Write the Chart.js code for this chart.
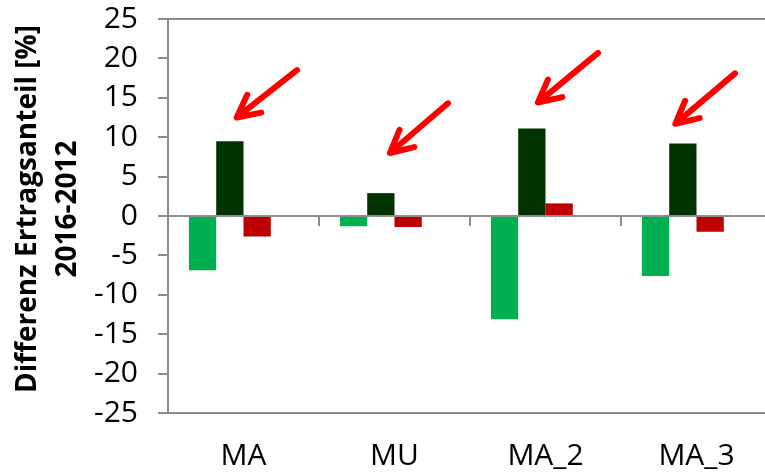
<!DOCTYPE html>
<html>
<head>
<meta charset="utf-8">
<script src="https://cdn.jsdelivr.net/npm/chart.js@4/dist/chart.umd.min.js"></script>
<style>
    html, body { margin: 0; padding: 0; overflow: hidden; background: #fff; }
    #wrap { position: relative; width: 776px; height: 475px; }
</style>
</head>
<body>
<div id="wrap"><canvas id="chart"></canvas></div>
<script>
// Categories and series values (difference in yield share, 2016 vs 2012)
const categories = ['MA', 'MU', 'MA_2', 'MA_3'];
const seriesLight = [-6.9, -1.3, -13.1, -7.6];
const seriesDark = [9.5, 2.9, 11.1, 9.2];
const seriesRed = [-2.6, -1.4, 1.6, -2.0];
const seriesEmpty = [null, null, null, null]; // empty 4th series keeps bars left of centre

const yTicks = [-25, -20, -15, -10, -5, 0, 5, 10, 15, 20, 25];

// Red arrow annotations, given in (category index, value) coordinates
const arrowTipX = [-0.045, 0.97, 1.95, 2.86];
const arrowTipY = [12.5, 8.0, 14.4, 11.7];
const arrowTailX = [0.354, 1.354, 2.348, 3.255];
const arrowTailY = [18.5, 14.3, 20.7, 18.1];

const axisGray = '#8C8C8C';
Chart.defaults.font.family = "'Open Sans', 'Liberation Sans', sans-serif";
Chart.defaults.color = '#000';

// Draws red arrows pointing at the dark green bars
const arrowPlugin = {
    id: 'arrows',
    afterDatasetsDraw(chart) {
        const ctx = chart.ctx;
        const xs = chart.scales.x;
        const ys = chart.scales.y;
        ctx.save();
        ctx.strokeStyle = '#FF0000';
        ctx.lineWidth = 6;
        ctx.lineCap = 'round';
        ctx.lineJoin = 'round';
        arrowTipX.forEach((tx, i) => {
            const x1 = xs.getPixelForValue(arrowTailX[i]);
            const y1 = ys.getPixelForValue(arrowTailY[i]);
            const x2 = xs.getPixelForValue(tx);
            const y2 = ys.getPixelForValue(arrowTipY[i]);
            const ang = Math.atan2(y1 - y2, x1 - x2);
            const len = 25;
            const spread = 0.47;
            ctx.beginPath();
            ctx.moveTo(x1, y1);
            ctx.lineTo(x2 + 3 * Math.cos(ang), y2 + 3 * Math.sin(ang));
            ctx.stroke();
            ctx.beginPath();
            ctx.moveTo(x2 + len * Math.cos(ang - spread), y2 + len * Math.sin(ang - spread));
            ctx.lineTo(x2, y2);
            ctx.lineTo(x2 + len * Math.cos(ang + spread), y2 + len * Math.sin(ang + spread));
            ctx.stroke();
        });
        ctx.restore();
    }
};

// Two-line rotated y-axis title
const yTitlePlugin = {
    id: 'yTitle',
    afterDraw(chart) {
        const ctx = chart.ctx;
        const cy = (chart.chartArea.top + chart.chartArea.bottom) / 2 - 7;
        ctx.save();
        ctx.fillStyle = '#000';
        ctx.font = "bold 28px 'Open Sans', 'Liberation Sans', sans-serif";
        ctx.textAlign = 'center';
        ctx.textBaseline = 'middle';
        [['Differenz Ertragsanteil [%]', 28], ['2016-2012', 68]].forEach(([text, x]) => {
            ctx.save();
            ctx.translate(x, cy);
            ctx.rotate(-Math.PI / 2);
            ctx.fillText(text, 0, 0);
            ctx.restore();
        });
        ctx.restore();
    }
};

const barStyle = { barPercentage: 1, categoryPercentage: 0.723, borderWidth: 0 };

new Chart(document.getElementById('chart'), {
    type: 'bar',
    data: {
        labels: categories,
        datasets: [
            { label: 'a', data: seriesLight, backgroundColor: '#00B050', ...barStyle },
            { label: 'b', data: seriesDark, backgroundColor: '#003300', ...barStyle },
            { label: 'c', data: seriesRed, backgroundColor: '#C00000', ...barStyle },
            { label: 'd', data: seriesEmpty, backgroundColor: '#FFFFFF', ...barStyle }
        ]
    },
    options: {
        responsive: true,
        maintainAspectRatio: false,
        animation: false,
        layout: { padding: { top: 19, right: 4, left: 0, bottom: 0 } },
        plugins: {
            legend: { display: false },
            tooltip: { enabled: false }
        },
        scales: {
            x: {
                position: 'bottom',
                offset: true,
                grid: { display: false, drawTicks: false },
                border: { display: false },
                ticks: { font: { size: 30 }, padding: 25, maxRotation: 0 },
                afterFit(scale) { scale.height = 62; }
            },
            x0: {
                type: 'category',
                labels: categories,
                position: { y: 0 },
                offset: true,
                grid: {
                    display: true,
                    offset: true,
                    drawOnChartArea: false,
                    drawTicks: true,
                    tickLength: 9,
                    color: axisGray,
                    lineWidth: 2
                },
                border: { display: true, color: axisGray, width: 2 },
                ticks: { display: false }
            },
            y: {
                min: -25,
                max: 25,
                afterBuildTicks(scale) {
                    scale.ticks = yTicks.map(v => ({ value: v }));
                },
                grid: {
                    color: (c) => (c.tick && Math.abs(c.tick.value) === 25) ? axisGray : 'rgba(0,0,0,0)',
                    tickColor: axisGray,
                    lineWidth: 2,
                    tickLength: 10,
                    drawTicks: true
                },
                border: { display: true, color: axisGray, width: 2 },
                ticks: { font: { size: 30 }, padding: 20, autoSkip: false },
                afterFit(scale) {
                    scale.width = 168;
                    scale.paddingTop = 0;
                    scale.paddingBottom = 0;
                }
            }
        }
    },
    plugins: [arrowPlugin, yTitlePlugin]
});
</script>
</body>
</html>
